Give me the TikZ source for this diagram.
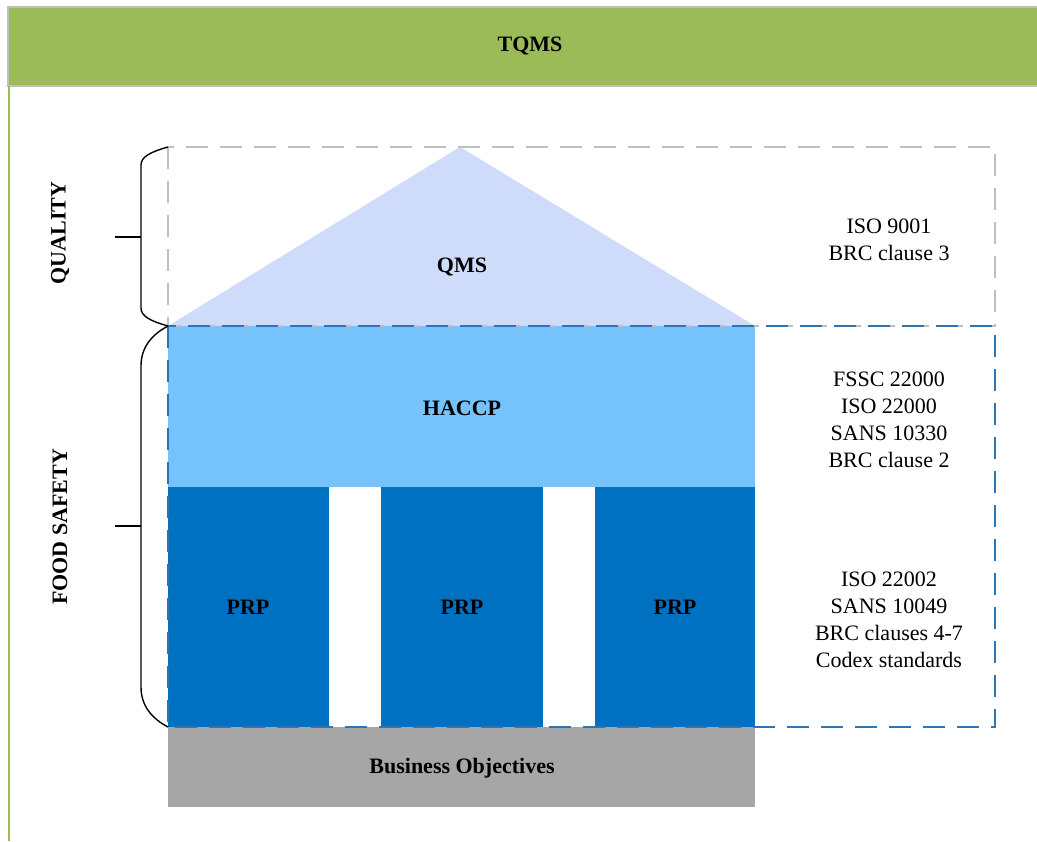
\documentclass[tikz,border=0pt]{standalone}
\usepackage{fontspec}
\setmainfont{Liberation Serif}
\usepackage{xcolor}
\usepackage{tikz}

\definecolor{hdrgreen}{HTML}{9BBB59}
\definecolor{roofblue}{HTML}{CFDBFB}
\definecolor{haccpblue}{HTML}{76C3FB}
\definecolor{prpblue}{HTML}{0070C0}
\definecolor{basegrey}{HTML}{A6A6A6}
\definecolor{dashgrey}{HTML}{BFBFBF}
\definecolor{dashblue}{HTML}{2E75B6}

\begin{document}
\begin{tikzpicture}[x=0.5pt,y=-0.5pt]
\tikzset{every node/.style={inner sep=0pt,font=\fontsize{11}{13.5}\selectfont},
  boldtxt/.style={font=\fontsize{11}{13.5}\selectfont\bfseries},
  sidetxt/.style={align=center},
  bracebar/.style={black,line width=0.7pt}}
\useasboundingbox (0,0) rectangle (1037,841);
% header band
\draw [dashgrey,fill=hdrgreen,line width=0.8pt] (8,7) rectangle (1045,86);
\node [boldtxt] (tqms) at (530,46) {TQMS};
\draw [hdrgreen,line width=1pt] (9,86) -- (9,841);
% house
\fill [roofblue] (168,326) -- (460,147) -- (755,326) -- cycle;
\fill [haccpblue] (168,326) rectangle (755,487);
\fill [prpblue] (168,487) rectangle (329,727);
\fill [prpblue] (381,487) rectangle (543,727);
\fill [prpblue] (595,487) rectangle (755,727);
\fill [basegrey] (168,727) rectangle (755,807);
% dashed frames
\draw [dashgrey,line width=0.6pt,dash pattern=on 11pt off 6pt] (168,147) rectangle (995,326);
\draw [dashblue,line width=0.7pt,dash pattern=on 11pt off 6pt] (168,326) rectangle (995,727);
% labels in the house
\node [boldtxt] (qms) at (462,267) {QMS};
\node [boldtxt] (haccp) at (462,408) {HACCP};
\node [boldtxt] (prpa) at (248,607) {PRP};
\node [boldtxt] (prpb) at (462,607) {PRP};
\node [boldtxt] (prpc) at (675,607) {PRP};
\node [boldtxt] (bizobj) at (462,768) {Business Objectives};
% standards
\node [sidetxt] (stdq) at (889,240) {ISO 9001\\BRC clause 3};
\node [sidetxt] (stdh) at (889,420) {FSSC 22000\\ISO 22000\\SANS 10330\\BRC clause 2};
\node [sidetxt] (stdp) at (889,620) {ISO 22002\\SANS 10049\\BRC clauses 4-7\\Codex standards};
% braces
\coordinate (qtip) at (141,237);
\coordinate (ftip) at (141,526);
\node [boldtxt,rotate=90] (quality) at (60,233) {QUALITY};
\node [boldtxt,rotate=90] (foodsafety) at (60,527) {FOOD SAFETY};
\draw [bracebar] (168,147) .. controls (150,152) and (141,157) .. (141,165) -- (141,308) .. controls (141,316) and (150,321) .. (168,326);
\draw [bracebar] (168,326) .. controls (151,335) and (141,348) .. (141,366) -- (141,687) .. controls (141,705) and (151,718) .. (168,727);
\draw [bracebar] (qtip) -- ++(-26,0);
\draw [bracebar] (ftip) -- ++(-26,0);
\end{tikzpicture}
\end{document}
